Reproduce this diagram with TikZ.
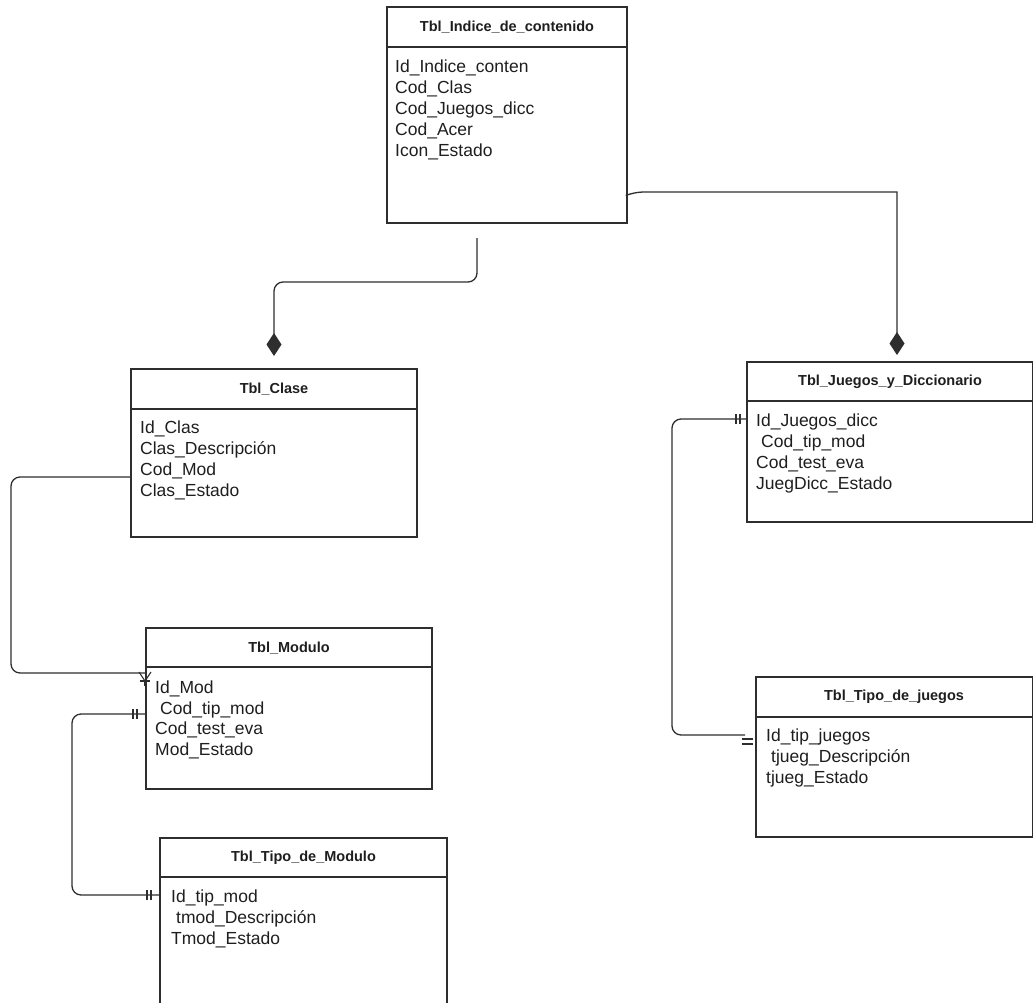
\documentclass[tikz,border=0pt]{standalone}
\usepackage{fontspec}
\setmainfont{Liberation Sans}
\usetikzlibrary{arrows.meta}
\definecolor{linec}{HTML}{2E2E2E}
\definecolor{txt}{HTML}{1E1E1E}
\begin{document}
\begin{tikzpicture}[x=1pt,y=-1pt,
  tbl/.style={draw=linec, line width=1.2pt, inner sep=0pt, outer sep=0pt, anchor=north west, rectangle},
  hdr/.style={draw=linec, line width=1.2pt},
  ttl/.style={font=\bfseries\fontsize{14.5}{17}\selectfont, text=txt, inner sep=0pt},
  fld/.style={font=\fontsize{17.5}{21}\selectfont, text=txt, anchor=base west, inner sep=0pt},
  conn/.style={draw=linec, line width=1.3pt, rounded corners=9pt},
  comp/.style={-{Diamond[length=23pt,width=15pt]}},
  erend/.style={draw=linec, line width=1.1pt}
]
\useasboundingbox (0,0) rectangle (1034,1002);
\clip (0,0) rectangle (1034,1002);

% ---------- tables ----------
\node[tbl, minimum width=240pt, minimum height=216pt] (indice) at (387,7) {};
\draw[hdr] ([yshift=-40pt]indice.north west) -- ([yshift=-40pt]indice.north east);
\node[ttl] (indiceT) at (507,27) {Tbl\_Indice\_de\_contenido};
\node[fld] (i1) at (395,72) {Id\_Indice\_conten};
\node[fld] (i2) at (395,93) {Cod\_Clas};
\node[fld] (i3) at (395,114) {Cod\_Juegos\_dicc};
\node[fld] (i4) at (395,135) {Cod\_Acer};
\node[fld] (i5) at (395,156) {Icon\_Estado};

\node[tbl, minimum width=286pt, minimum height=168pt] (clase) at (131,369) {};
\draw[hdr] ([yshift=-40pt]clase.north west) -- ([yshift=-40pt]clase.north east);
\node[ttl] (claseT) at (274,389) {Tbl\_Clase};
\node[fld] (c1) at (140,433) {Id\_Clas};
\node[fld] (c2) at (140,454) {Clas\_Descripción};
\node[fld] (c3) at (140,475) {Cod\_Mod};
\node[fld] (c4) at (140,496) {Clas\_Estado};

\node[tbl, minimum width=286pt, minimum height=161pt] (modulo) at (146,628) {};
\draw[hdr] ([yshift=-39pt]modulo.north west) -- ([yshift=-39pt]modulo.north east);
\node[ttl] (moduloT) at (289,648) {Tbl\_Modulo};
\node[fld] (m1) at (155,693) {Id\_Mod};
\node[fld] (m2) at (160,714) {Cod\_tip\_mod};
\node[fld] (m3) at (155,734.5) {Cod\_test\_eva};
\node[fld] (m4) at (155,755) {Mod\_Estado};

\node[tbl, minimum width=287pt, minimum height=190pt] (tmod) at (160,838) {};
\draw[hdr] ([yshift=-39pt]tmod.north west) -- ([yshift=-39pt]tmod.north east);
\node[ttl] (tmodT) at (303.5,858) {Tbl\_Tipo\_de\_Modulo};
\node[fld] (t1) at (171,902) {Id\_tip\_mod};
\node[fld] (t2) at (176,923) {tmod\_Descripción};
\node[fld] (t3) at (171,944) {Tmod\_Estado};

\node[tbl, minimum width=285.5pt, minimum height=160pt] (juegos) at (747,362) {};
\draw[hdr] ([yshift=-39pt]juegos.north west) -- ([yshift=-39pt]juegos.north east);
\node[ttl] (juegosT) at (890,382) {Tbl\_Juegos\_y\_Diccionario};
\node[fld] (j1) at (756,426) {Id\_Juegos\_dicc};
\node[fld] (j2) at (761,447) {Cod\_tip\_mod};
\node[fld] (j3) at (756,468) {Cod\_test\_eva};
\node[fld] (j4) at (756,489) {JuegDicc\_Estado};

\node[tbl, minimum width=276.5pt, minimum height=160pt] (tjuegos) at (756,677) {};
\draw[hdr] ([yshift=-40pt]tjuegos.north west) -- ([yshift=-40pt]tjuegos.north east);
\node[ttl] (tjuegosT) at (894,697) {Tbl\_Tipo\_de\_juegos};
\node[fld] (g1) at (766,741) {Id\_tip\_juegos};
\node[fld] (g2) at (771,762) {tjueg\_Descripción};
\node[fld] (g3) at (766,783) {tjueg\_Estado};

% ---------- connectors ----------
\coordinate (c1s) at ([yshift=-15pt]indice.south -| 477,0);
\draw[conn, comp] (c1s) -- (477,282) -- (274,282) -- ([yshift=13pt]clase.north);

\draw[conn, comp] (indice.east |- 0,195) -- (634,192) [rounded corners=0pt] -- (897,192) -- ([yshift=7pt]juegos.north -| 897,0);

\draw[conn] (clase.west |- 0,477) -- (11,477) -- (11,673) -- (modulo.west |- 0,673);
\draw[erend] (139,672) -- (145,681) -- (151,672);
\draw[erend] (145,681) -- (145,686);
\draw[erend] (140,681) -- (150,681);

\draw[conn] (modulo.west |- 0,714) -- (72,714) -- (72,895) -- (tmod.west |- 0,895);
\draw[erend] (133,709) -- (133,719);
\draw[erend] (137,709) -- (137,719);
\draw[erend] (147,890) -- (147,900);
\draw[erend] (151,890) -- (151,900);

\draw[conn, shorten >=11pt] (juegos.west |- 0,419) -- (672,419) -- (672,735) -- (tjuegos.west |- 0,735);
\draw[erend] (736,414) -- (736,424);
\draw[erend] (740,414) -- (740,424);
\draw[erend] (742,739) -- (753,739);
\draw[erend] (742,744) -- (753,744);
\end{tikzpicture}
\end{document}
